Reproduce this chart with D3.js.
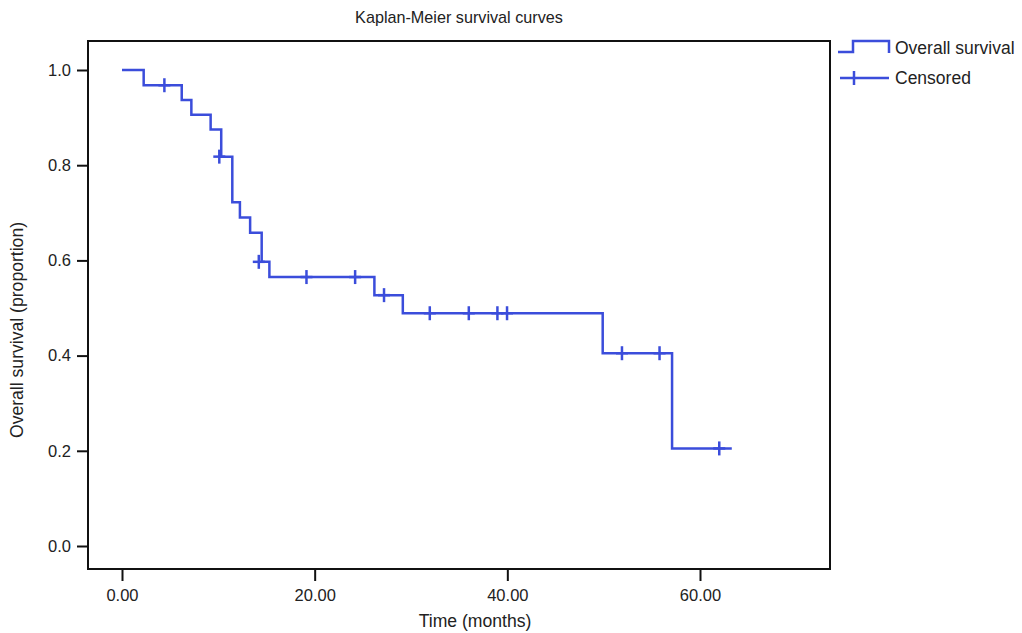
<!DOCTYPE html>
<html>
<head>
<meta charset="utf-8">
<script src="https://cdn.jsdelivr.net/npm/d3@7/dist/d3.min.js"></script>
<style>
body{margin:0;background:#fff;}
text{font-family:"Liberation Sans",Arial,Helvetica,sans-serif;fill:#222;}
</style>
</head>
<body>
<svg id="chart" width="1022" height="633"></svg>
<script>
// Step function: event times and survival level after each step
const stepTimes = [0, 2.25, 6.2, 7.2, 9.2, 10.3, 11.45, 12.24, 13.3, 14.5, 15.3, 26.2, 29.15, 49.9, 57.1];
const stepSurvival = [1.0, 0.968, 0.937, 0.906, 0.875, 0.818, 0.722, 0.690, 0.658, 0.597, 0.565, 0.527, 0.489, 0.405, 0.205];
const endTime = 63.3;
// Censored observations
const censorTimes = [4.4, 10.1, 14.2, 19.15, 24.2, 27.2, 31.95, 36.0, 38.97, 39.97, 51.9, 55.8, 62.0];
const xTickValues = [0, 20, 40, 60];
const yTickValues = [0, 0.2, 0.4, 0.6, 0.8, 1.0];

const svg = d3.select("#chart");
const L = 88, R = 830, T = 41, B = 569;
const x = d3.scaleLinear().domain([0, 60]).range([122, 700]);
const y = d3.scaleLinear().domain([0, 1]).range([546, 70]);
const blue = "#3b4ddb";

// frame
svg.append("rect").attr("x", L).attr("y", T).attr("width", R - L).attr("height", B - T)
  .attr("fill", "none").attr("stroke", "#111").attr("stroke-width", 2);

// axes
const xAxis = svg.append("g").attr("transform", `translate(0,${B})`)
  .call(d3.axisBottom(x).tickValues(xTickValues).tickSize(12).tickPadding(8).tickFormat(d3.format(".2f")));
const yAxis = svg.append("g").attr("transform", `translate(${L},0)`)
  .call(d3.axisLeft(y).tickValues(yTickValues).tickSize(11).tickPadding(6).tickFormat(d3.format(".1f")));
[xAxis, yAxis].forEach(g => {
  g.select(".domain").remove();
  g.selectAll(".tick line").attr("stroke", "#111").attr("stroke-width", 2);
  g.selectAll(".tick text").attr("font-size", 16.5).attr("fill", "#222")
    .attr("font-family", "'Liberation Sans',Arial,sans-serif");
});
xAxis.selectAll(".tick text").attr("y", 32).attr("dy", 0);

// titles
svg.append("text").attr("x", 459).attr("y", 23).attr("text-anchor", "middle")
  .attr("font-size", 16.2).text("Kaplan-Meier survival curves");
svg.append("text").attr("x", 475).attr("y", 627).attr("text-anchor", "middle")
  .attr("font-size", 17.6).text("Time (months)");
svg.append("text").attr("transform", `translate(23,330) rotate(-90)`)
  .attr("text-anchor", "middle").attr("font-size", 17.6).text("Overall survival (proportion)");

// survival curve
const pts = stepTimes.map((t, i) => [t, stepSurvival[i]]);
pts.push([endTime, stepSurvival[stepSurvival.length - 1]]);
const line = d3.line().x(d => x(d[0])).y(d => y(d[1])).curve(d3.curveStepAfter);
svg.append("path").datum(pts).attr("d", line).attr("fill", "none")
  .attr("stroke", blue).attr("stroke-width", 2.5);

function survAt(t) {
  let s = 1;
  for (let i = 0; i < stepTimes.length; i++) if (stepTimes[i] <= t) s = stepSurvival[i];
  return s;
}
function survCensor(t) {
  // a censored mark just before a drop is drawn at the post-drop level
  for (let i = 0; i < stepTimes.length; i++) if (stepTimes[i] > t && stepTimes[i] - t < 0.4) return stepSurvival[i];
  return survAt(t);
}
const cg = svg.append("g").attr("stroke", blue).attr("stroke-width", 2.5);
censorTimes.forEach(t => {
  const cx = x(t), cy = y(survCensor(t));
  cg.append("line").attr("x1", cx).attr("x2", cx).attr("y1", cy - 7).attr("y2", cy + 7);
  cg.append("line").attr("x1", cx - 6).attr("x2", cx + 6).attr("y1", cy).attr("y2", cy);
});

// legend
const lg = svg.append("g");
lg.append("path").attr("d", "M838,52H853V41H889V53").attr("fill", "none").attr("stroke", blue).attr("stroke-width", 2.5);
lg.append("text").attr("x", 895).attr("y", 54).attr("font-size", 17.5).text("Overall survival");
lg.append("line").attr("x1", 840).attr("x2", 889).attr("y1", 78).attr("y2", 78).attr("stroke", blue).attr("stroke-width", 2.5);
lg.append("line").attr("x1", 854).attr("x2", 854).attr("y1", 71).attr("y2", 85).attr("stroke", blue).attr("stroke-width", 2.5);
lg.append("text").attr("x", 895).attr("y", 84).attr("font-size", 17.5).text("Censored");
</script>
</body>
</html>
